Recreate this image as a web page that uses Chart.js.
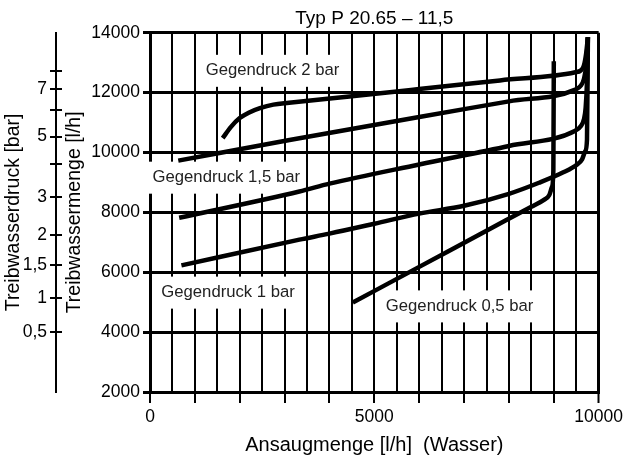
<!DOCTYPE html>
<html>
<head>
<meta charset="utf-8">
<script src="https://cdn.jsdelivr.net/npm/chart.js@4.4.1/dist/chart.umd.min.js"></script>
<style>
  html, body { margin: 0; padding: 0; background: #fff; }
  #wrap { width: 627px; height: 459px; }
</style>
</head>
<body>
<div id="wrap"><canvas id="chart" width="627" height="459"></canvas></div>
<script>
// curves: x = Ansaugmenge [l/h], y = Treibwassermenge [l/h]
const lineAX = [1620, 1800, 2000, 2200, 2450, 2750, 3100, 4500, 6000, 7800, 9480, 9600, 9670, 9720, 9760];
const lineAY = [10480, 10850, 11150, 11330, 11480, 11600, 11660, 11880, 12120, 12410, 12680, 12740, 12900, 13300, 13850];

const lineBX = [630, 3110, 6000, 8000, 9480, 9600, 9670, 9720, 9760];
const lineBY = [9730, 10420, 11190, 11710, 12100, 12230, 12450, 12900, 13850];

const lineCX = [650, 3330, 4000, 6000, 8000, 9480, 9600, 9670, 9710, 9740, 9760];
const lineCY = [7820, 8700, 8960, 9600, 10220, 10730, 10880, 11100, 11500, 12400, 13850];

const lineDX = [700, 3330, 4000, 5000, 6000, 7000, 8000, 8670, 9200, 9520, 9630, 9700, 9740, 9760];
const lineDY = [6230, 7090, 7290, 7620, 7960, 8220, 8620, 8990, 9330, 9600, 9770, 10040, 10430, 13850];

const lineEX = [4520, 6000, 7500, 8500, 8780, 8900, 8960, 8990, 9000];
const lineEY = [4990, 6180, 7390, 8190, 8420, 8580, 8850, 9400, 13050];

// pressure scale on the far left (bar), placed against the l/h scale
const barTickLabels = ['', '7', '', '5', '', '3', '2', '1,5', '1', '0,5'];
const barTickPos = [12740, 12120, 11430, 10530, 9630, 8510, 7250, 6240, 5130, 4015];

// curve captions
const curveLabels = ['Gegendruck 2 bar', 'Gegendruck 1,5 bar', 'Gegendruck 1 bar', 'Gegendruck 0,5 bar'];
const curveLabelX = [2730, 1700, 1740, 6900];
const curveLabelY = [12730, 9160, 5320, 4860];

const FONT = '"Liberation Sans", Arial, Helvetica, sans-serif';
Chart.defaults.font.family = FONT;
Chart.defaults.color = '#000';

const toPoints = (xs, ys) => xs.map((x, i) => ({ x: x, y: ys[i] }));

const curveLabelPlugin = {
  id: 'curveLabels',
  beforeDatasetsDraw(chart) {
    const { ctx, scales: { x, y } } = chart;
    ctx.save();
    ctx.font = '16.7px ' + FONT;
    ctx.textAlign = 'center';
    ctx.textBaseline = 'middle';
    curveLabels.forEach((text, i) => {
      const px = x.getPixelForValue(curveLabelX[i]);
      const py = y.getPixelForValue(curveLabelY[i]);
      const w = ctx.measureText(text).width;
      ctx.fillStyle = '#fff';
      ctx.fillRect(px - w / 2 - 6, py - 16, w + 12, 32);
      ctx.fillStyle = '#222';
      ctx.fillText(text, px, py);
    });
    ctx.restore();
  }
};

const setBarTicks = (scale) => {
  scale.ticks = barTickPos.map(v => ({ value: v }));
};

const lineStyle = {
  borderColor: '#000',
  borderWidth: 4.5,
  pointRadius: 0,
  fill: false,
  cubicInterpolationMode: 'monotone'
};

new Chart(document.getElementById('chart'), {
  type: 'line',
  data: {
    datasets: [
      { label: 'A', data: toPoints(lineAX, lineAY), ...lineStyle },
      { label: 'B', data: toPoints(lineBX, lineBY), ...lineStyle },
      { label: 'C', data: toPoints(lineCX, lineCY), ...lineStyle },
      { label: 'D', data: toPoints(lineDX, lineDY), ...lineStyle },
      { label: 'E', data: toPoints(lineEX, lineEY), ...lineStyle }
    ]
  },
  options: {
    responsive: false,
    animation: false,
    layout: { padding: { right: 27 } },
    plugins: {
      legend: { display: false },
      tooltip: { enabled: false },
      title: {
        display: true,
        text: 'Typ P 20.65 – 11,5',
        fullSize: false,
        color: '#000',
        font: { size: 19, weight: 'normal' },
        padding: { top: 7, bottom: 3 }
      }
    },
    scales: {
      x: {
        type: 'linear',
        min: 0,
        max: 10000,
        ticks: {
          stepSize: 500,
          autoSkip: false,
          maxRotation: 0,
          padding: 4,
          font: { size: 17.5 },
          callback: v => (v % 5000 === 0 ? String(v) : '')
        },
        grid: {
          color: '#000',
          lineWidth: c => (c.tick && c.tick.value === 10000 ? 3 : 2),
          tickColor: c => (c.tick && c.tick.value % 1000 === 0 ? '#000' : 'rgba(0,0,0,0)'),
          tickLength: 11,
          tickWidth: 2
        },
        border: { color: '#000', width: 3 },
        title: {
          display: true,
          text: 'Ansaugmenge [l/h]  (Wasser)',
          font: { size: 20 },
          padding: { top: 6, bottom: 2 }
        },
        afterFit: s => { s.height = 67; }
      },
      y: {
        type: 'linear',
        position: 'left',
        weight: 0,
        min: 2000,
        max: 14000,
        ticks: {
          stepSize: 2000,
          padding: 3,
          font: { size: 17.5 },
          callback: v => String(v)
        },
        grid: { color: '#000', lineWidth: 3, tickLength: 7 },
        border: { color: '#000', width: 3 },
        title: {
          display: true,
          text: 'Treibwassermenge [l/h]',
          font: { size: 19.5 },
          padding: { top: 1.2, bottom: 0 }
        },
        afterFit: s => { s.width = 88; }
      },
      yBarRight: {
        type: 'linear',
        position: 'left',
        weight: 1,
        min: 2000,
        max: 14000,
        afterBuildTicks: setBarTicks,
        ticks: { display: false, autoSkip: false },
        grid: { drawOnChartArea: false, color: '#000', lineWidth: 2, tickLength: 6 },
        border: { display: false },
        afterFit: s => { s.width = 6; }
      },
      yBar: {
        type: 'linear',
        position: 'left',
        weight: 2,
        min: 2000,
        max: 14000,
        afterBuildTicks: setBarTicks,
        ticks: {
          autoSkip: false,
          padding: 3,
          font: { size: 17.5 },
          callback: (v, i) => barTickLabels[i]
        },
        grid: { drawOnChartArea: false, color: '#000', lineWidth: 2, tickLength: 6 },
        border: { color: '#000', width: 2 },
        title: {
          display: true,
          text: 'Treibwasserdruck [bar]',
          font: { size: 19.5 },
          padding: { top: 2.2, bottom: 0 }
        },
        afterFit: s => { s.width = 56; }
      }
    }
  },
  plugins: [curveLabelPlugin]
});
</script>
</body>
</html>
